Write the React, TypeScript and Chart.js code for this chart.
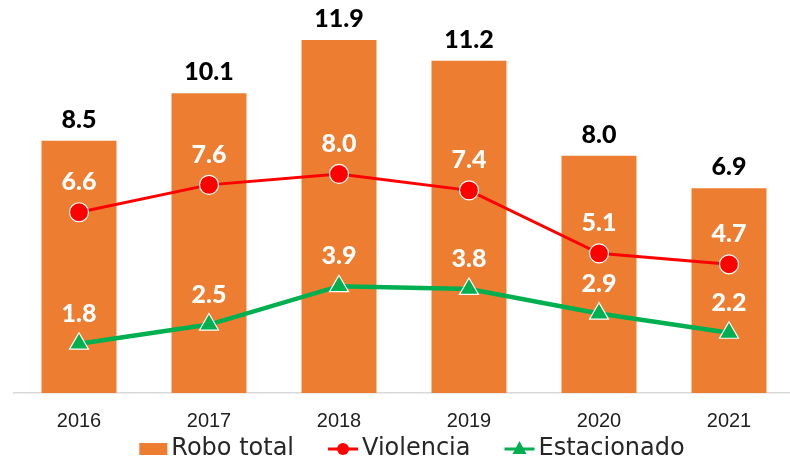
import React, { useEffect, useRef } from 'react';
import { Chart, registerables } from 'chart.js';

Chart.register(...registerables);

const years = ['2016', '2017', '2018', '2019', '2020', '2021'];
const roboTotal = [8.5, 10.1, 11.9, 11.2, 8.0, 6.9];
const violencia = [6.6, 7.6, 8.0, 7.4, 5.1, 4.7];
const estacionado = [1.8, 2.5, 3.9, 3.8, 2.9, 2.2];
const seriesNames = ['Robo total', 'Violencia', 'Estacionado'];

const ORANGE = '#ED7D31';
const RED = '#FF0000';
const GREEN = '#00B050';

const valueLabels = {
  id: 'valueLabels',
  afterDatasetsDraw(chart: any) {
    const ctx = chart.ctx;
    ctx.save();
    ctx.font = '900 25px Lato';
    ctx.textAlign = 'center';
    ctx.textBaseline = 'middle';
    chart.data.datasets.forEach((ds: any, i: number) => {
      const meta = chart.getDatasetMeta(i);
      meta.data.forEach((el: any, j: number) => {
        const txt = Number(ds.data[j]).toFixed(1);
        if (ds.type === 'bar') {
          ctx.fillStyle = '#000000';
          ctx.fillText(txt, el.x, el.y - 21);
        } else {
          ctx.fillStyle = '#FFFFFF';
          ctx.fillText(txt, el.x, el.y - 30);
        }
      });
    });
    ctx.restore();
  },
};

const customLegend = {
  id: 'customLegend',
  afterDraw(chart: any) {
    const ctx = chart.ctx;
    const items = [
      { text: seriesNames[0], kind: 'box', color: ORANGE },
      { text: seriesNames[1], kind: 'circle', color: RED },
      { text: seriesNames[2], kind: 'triangle', color: GREEN },
    ];
    ctx.save();
    ctx.font = '24px "DejaVu Sans"';
    const gapText = 4;
    const gapItem = 34;
    const widths = items.map((it) => (it.kind === 'box' ? 28 : 30) + gapText + ctx.measureText(it.text).width);
    const total = widths.reduce((a, b) => a + b, 0) + gapItem * (items.length - 1);
    const center = (chart.chartArea.left + chart.chartArea.right) / 2 + 8;
    let x = center - total / 2;
    const y = chart.height - 16;
    items.forEach((it, i) => {
      let mw = 28;
      if (it.kind === 'box') {
        ctx.fillStyle = it.color;
        ctx.fillRect(x, y - 6, 28, 12);
      } else {
        mw = 30;
        ctx.strokeStyle = it.color;
        ctx.lineWidth = 3;
        ctx.beginPath();
        ctx.moveTo(x, y);
        ctx.lineTo(x + 30, y);
        ctx.stroke();
        ctx.fillStyle = it.color;
        ctx.beginPath();
        if (it.kind === 'circle') {
          ctx.arc(x + 15, y, 6, 0, Math.PI * 2);
        } else {
          ctx.moveTo(x + 15, y - 8);
          ctx.lineTo(x + 22, y + 5);
          ctx.lineTo(x + 8, y + 5);
          ctx.closePath();
        }
        ctx.fill();
      }
      ctx.fillStyle = '#262626';
      ctx.textAlign = 'left';
      ctx.textBaseline = 'middle';
      ctx.fillText(it.text, x + mw + gapText, y);
      x += widths[i] + gapItem;
    });
    ctx.restore();
  },
};

export default function App() {
  const canvasRef = useRef<HTMLCanvasElement | null>(null);

  useEffect(() => {
    document.body.style.margin = '0';
    const canvas = canvasRef.current;
    if (!canvas) return;
    const chart = new Chart(canvas, {
      type: 'bar',
      data: {
        labels: years,
        datasets: [
          {
            type: 'line',
            label: seriesNames[1],
            data: violencia,
            yAxisID: 'y1',
            borderColor: RED,
            backgroundColor: RED,
            borderWidth: 3,
            pointStyle: 'circle',
            pointRadius: 9.5,
            pointBackgroundColor: RED,
            pointBorderColor: '#FFFFFF',
            pointBorderWidth: 1.2,
            tension: 0,
            order: 1,
          } as any,
          {
            type: 'line',
            label: seriesNames[2],
            data: estacionado,
            yAxisID: 'y1',
            borderColor: GREEN,
            backgroundColor: GREEN,
            borderWidth: 4.5,
            pointStyle: 'triangle',
            pointRadius: 11,
            pointBackgroundColor: GREEN,
            pointBorderColor: '#FFFFFF',
            pointBorderWidth: 1.2,
            tension: 0,
            order: 2,
          } as any,
          {
            type: 'bar',
            label: seriesNames[0],
            data: roboTotal,
            yAxisID: 'y',
            backgroundColor: ORANGE,
            borderWidth: 0,
            barPercentage: 0.577,
            categoryPercentage: 1,
            order: 3,
          } as any,
        ],
      },
      options: {
        animation: false,
        responsive: true,
        maintainAspectRatio: false,
        layout: { padding: { left: 14, right: 16, top: 37, bottom: 16 } },
        plugins: {
          legend: { display: false },
          tooltip: { enabled: false },
        },
        scales: {
          x: {
            grid: { display: false, drawTicks: false },
            border: { display: true, color: '#D9D9D9', width: 1.5 },
            ticks: {
              color: '#1F1F1F',
              font: { family: '"Liberation Sans"', size: 20 },
              padding: 16,
            },
          },
          y: {
            display: false,
            min: 0,
            max: 12,
          },
          y1: {
            display: false,
            min: 0,
            max: 13,
          },
        },
      },
      plugins: [valueLabels, customLegend],
    });
    return () => chart.destroy();
  }, []);

  return (
    <div style={{ width: 790, height: 465, overflow: 'hidden', position: 'relative' }}>
      <div style={{ width: 810, height: 465, position: 'relative' }}>
        <canvas ref={canvasRef} />
      </div>
    </div>
  );
}
